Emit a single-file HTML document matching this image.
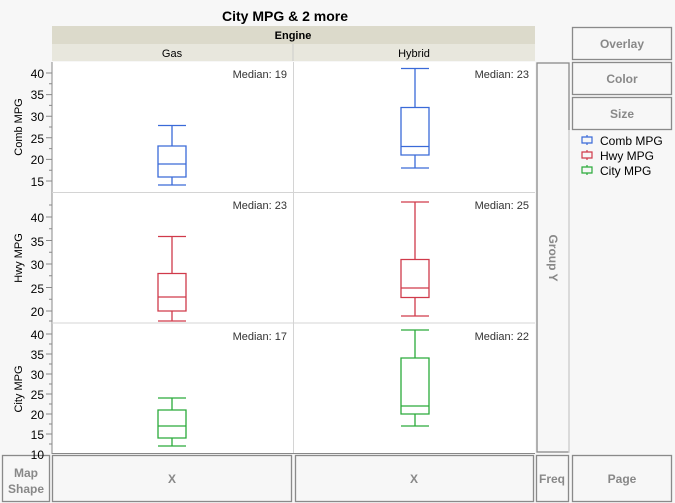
<!DOCTYPE html>
<html><head><style>
html,body{margin:0;padding:0;background:#f7f7f7;}
svg{display:block;font-family:"Liberation Sans",sans-serif;}
</style></head><body>
<svg width="675" height="503" viewBox="0 0 675 503" xmlns="http://www.w3.org/2000/svg">
<rect width="675" height="503" fill="#f7f7f7"/>
<text x="285" y="21" font-size="14" font-weight="bold" text-anchor="middle" fill="#000">City MPG &amp; 2 more</text>
<rect x="52" y="26" width="483" height="18" fill="#dcdacb"/>
<text x="293" y="39" font-size="11" font-weight="bold" text-anchor="middle">Engine</text>
<rect x="52" y="44" width="483" height="17" fill="#e8e7dd"/>
<line x1="293" y1="44" x2="293" y2="61" stroke="#ccc"/>
<text x="172" y="57" font-size="11" text-anchor="middle">Gas</text>
<text x="414" y="57" font-size="11" text-anchor="middle">Hybrid</text>
<rect x="52" y="62" width="483" height="391" fill="#fff"/>
<line x1="52" y1="62" x2="52" y2="454" stroke="#888"/>
<line x1="52" y1="192.5" x2="535" y2="192.5" stroke="#d4d4d4"/>
<line x1="52" y1="323" x2="535" y2="323" stroke="#d4d4d4"/>
<line x1="293.5" y1="62" x2="293.5" y2="453" stroke="#d4d4d4"/>
<line x1="52" y1="453.5" x2="535" y2="453.5" stroke="#888"/>
<g stroke="#888">
<path d="M46 73h6M46 94.6h6M46 116.2h6M46 137.8h6M46 159.4h6M46 181h6"/>
<path d="M46 217h6M46 240.5h6M46 264h6M46 287.5h6M46 311h6"/>
<path d="M46 334h6M46 354h6M46 374h6M46 394h6M46 414h6M46 434h6"/>
<path d="M49 83.8h3M49 105.4h3M49 127h3M49 148.6h3M49 170.2h3M49 205h3M49 228.8h3M49 252.3h3M49 275.8h3M49 299.3h3M49 321h3M49 344h3M49 364h3M49 384h3M49 404h3M49 424h3M49 444h3"/>
</g>
<g font-size="11" fill="#000">
<text transform="translate(22,127) rotate(-90)" text-anchor="middle">Comb MPG</text>
<text transform="translate(22,258) rotate(-90)" text-anchor="middle">Hwy MPG</text>
<text transform="translate(22,389) rotate(-90)" text-anchor="middle">City MPG</text>
</g>
<g font-size="11" fill="#333" text-anchor="end">
<text x="287" y="78">Median: 19</text><text x="529" y="78">Median: 23</text>
<text x="287" y="209">Median: 23</text><text x="529" y="209">Median: 25</text>
<text x="287" y="340">Median: 17</text><text x="529" y="340">Median: 22</text>
</g>
<g fill="none" stroke-width="1.3">
<g stroke="#3a6ad8">
<path d="M158 125.5h28M172 125.5V146M158 146h28v31h-28zM158 164h28M172 177v8M158 185h28"/>
<path d="M401 68.5h28M415 68.5V107.5M401 107.5h28v47.5h-28zM401 146.5h28M415 155v13M401 168h28"/>
</g>
<g stroke="#d03a4a">
<path d="M158 236.5h28M172 236.5V273.5M158 273.5h28v37.5h-28zM158 297h28M172 311v10M158 321h28"/>
<path d="M401 202h28M415 202V259.5M401 259.5h28v38h-28zM401 288h28M415 297.5v18.5M401 316h28"/>
</g>
<g stroke="#2aaa3a">
<path d="M158 398h28M172 398V410M158 410h28v28h-28zM158 426h28M172 438v8M158 446h28"/>
<path d="M401 330h28M415 330V358M401 358h28v56h-28zM401 406h28M415 414v12M401 426h28"/>
</g>
</g>
<g fill="#f7f7f7" stroke="#8a8a8a" stroke-width="1.3">
<rect x="537" y="63" width="32" height="389"/>
<rect x="572.5" y="27.5" width="99" height="32"/>
<rect x="572.5" y="62.5" width="99" height="32"/>
<rect x="572.5" y="97.5" width="99" height="32"/>
<rect x="2.5" y="455.5" width="47" height="46"/>
<rect x="52.5" y="455.5" width="239" height="46"/>
<rect x="295.5" y="455.5" width="238" height="46"/>
<rect x="536.5" y="455.5" width="32" height="46"/>
<rect x="572.5" y="455.5" width="99" height="46"/>
</g>
<g font-size="12" text-anchor="end" fill="#000">
<text x="44" y="78">40</text><text x="44" y="99">35</text><text x="44" y="121">30</text><text x="44" y="143">25</text><text x="44" y="164">20</text><text x="44" y="186">15</text>
<text x="44" y="222">40</text><text x="44" y="246">35</text><text x="44" y="269">30</text><text x="44" y="293">25</text><text x="44" y="316">20</text>
<text x="44" y="339">40</text><text x="44" y="359">35</text><text x="44" y="379">30</text><text x="44" y="399">25</text><text x="44" y="419">20</text><text x="44" y="439">15</text><text x="44" y="459">10</text>
</g>
<line x1="569" y1="130" x2="569" y2="453" stroke="#ddd"/>
<g font-size="12" font-weight="bold" fill="#888" text-anchor="middle">
<text x="622" y="48">Overlay</text>
<text x="622" y="83">Color</text>
<text x="622" y="118">Size</text>
<text x="26" y="477">Map</text><text x="26" y="493">Shape</text>
<text x="172" y="483">X</text><text x="414" y="483">X</text>
<text x="552" y="483">Freq</text><text x="622" y="483">Page</text>
<text transform="translate(549,258) rotate(90)">Group Y</text>
</g>
<g font-size="12" fill="#000">
<text x="600" y="145">Comb MPG</text><text x="600" y="160">Hwy MPG</text><text x="600" y="175">City MPG</text>
</g>
<g fill="none" stroke-width="1.2">
<path d="M582 137h10v6h-10zM587 135v2M587 143v2" stroke="#3a6ad8"/>
<path d="M582 152h10v6h-10zM587 150v2M587 158v2" stroke="#d03a4a"/>
<path d="M582 167h10v6h-10zM587 165v2M587 173v2" stroke="#2aaa3a"/>
</g>
</svg>
</body></html>
